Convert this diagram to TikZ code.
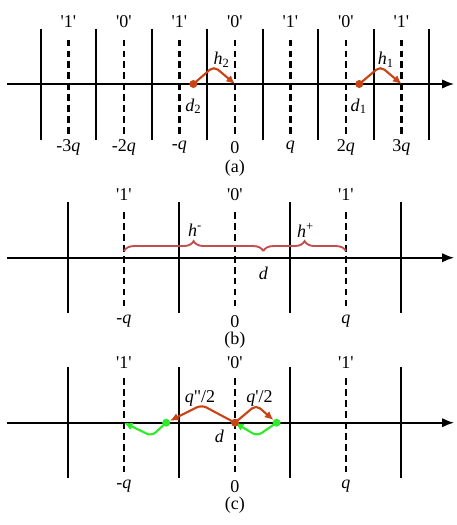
\documentclass[tikz,border=0pt]{standalone}
\usepackage{fontspec}
\setmainfont{Liberation Serif}
\usetikzlibrary{decorations.pathreplacing,arrows.meta}
\definecolor{hopred}{RGB}{200,68,20}
\definecolor{bracered}{RGB}{192,80,77}
\definecolor{backgreen}{RGB}{45,235,40}
\newcommand{\bitlab}[1]{\textquotesingle#1\textquotesingle}

\begin{document}
\begin{tikzpicture}[x=41.63pt,y=41.63pt,font=\fontsize{13.5}{16}\selectfont,every node/.style={inner sep=1pt}]
                    \tikzstyle{axis}=[line width=1.5pt,-{Latex[length=9pt,width=7pt]}]
                    \tikzstyle{border}=[line width=1.5pt]
                    \tikzstyle{level}=[line width=1.6pt,dash pattern=on 5pt off 3.2pt]
                    \tikzstyle{hop}=[line width=1.6pt,draw=hopred,rounded corners=4pt,-{Latex[length=6.5pt,width=6pt]}]
                    \tikzstyle{back}=[line width=1.6pt,draw=backgreen,rounded corners=4pt,-{Latex[length=6.5pt,width=6pt]}]
                    \tikzstyle{reddot}=[circle,fill=hopred,inner sep=0pt,minimum size=6pt]
                    \tikzstyle{greendot}=[circle,fill=backgreen,inner sep=0pt,minimum size=6pt]
                    \tikzstyle{curly}=[bracered,line width=1.4pt,decorate,decoration={brace,amplitude=7.5pt}]
                    \useasboundingbox (-4.234,1.5135) rectangle (4.0,-7.946);

                    % (a)
                    \coordinate (al) at (-4.11,0);
                    \coordinate (ar) at (3.95,0);
                    \draw [axis] (al) -- (ar);
                    \foreach \x in {-3.5,-2.5,...,3.5}
                        \draw [border] (\x,1) -- (\x,-1);
                    \foreach \x/\b/\v in {-3/1/-3\textit{q},-2/0/-2\textit{q},-1/1/-\textit{q},0/0/0,1/1/\textit{q},2/0/2\textit{q},3/1/3\textit{q}} {
                        \draw [level] (\x,0.8) -- (\x,-0.92);
                        \node at (\x,1.12) {\bitlab{\b}};
                        \node at (\x,-1.14) {\v};
                    }
                    \node (d2) at (-0.75,0) [reddot] {};
                    \coordinate (p2) at (-0.38,0.32);
                    \coordinate (z0) at (0,0);
                    \draw [hop] (d2.center) -- (p2) -- (z0);
                    \node at (-0.24,0.44) {\textit{h}\textsubscript{2}};
                    \node at (-0.75,-0.4) {\textit{d}\textsubscript{2}};
                    \node (d1) at (2.24,0) [reddot] {};
                    \coordinate (p1) at (2.62,0.32);
                    \coordinate (z3) at (3,0);
                    \draw [hop] (d1.center) -- (p1) -- (z3);
                    \node at (2.72,0.44) {\textit{h}\textsubscript{1}};
                    \node at (2.23,-0.4) {\textit{d}\textsubscript{1}};
                    \node at (0,-1.51) {(a)};

                    % (b)
                    \begin{scope}[shift={(0,-3.13)}]
                    \coordinate (bl) at (-4.11,0);
                    \coordinate (br) at (3.95,0);
                    \draw [axis] (bl) -- (br);
                    \foreach \x in {-3,-1,1,3}
                        \draw [border] (\x,1) -- (\x,-1);
                    \foreach \x/\b/\v in {-2/1/-\textit{q},0/0/0,2/1/\textit{q}} {
                        \draw [level] (\x,0.82) -- (\x,-0.9);
                        \node at (\x,1.13) {\bitlab{\b}};
                        \node at (\x,-1.15) {\v};
                    }
                    \coordinate (mq) at (-2,0.12);
                    \coordinate (dd) at (0.51,0.12);
                    \coordinate (pq) at (2,0.12);
                    \draw [curly] (mq) -- (dd);
                    \draw [curly] (dd) -- (pq);
                    \node at (-0.72,0.5) {\textit{h}\textsuperscript{-}};
                    \node at (1.27,0.5) {\textit{h}\textsuperscript{+}};
                    \node at (0.51,-0.28) {\textit{d}};
                    \node at (0,-1.48) {(b)};
                    \end{scope}

                    % (c)
                    \begin{scope}[shift={(0,-6.103)}]
                    \coordinate (cl) at (-4.11,0);
                    \coordinate (cr) at (3.95,0);
                    \draw [axis] (cl) -- (cr);
                    \foreach \x in {-3,-1,1,3}
                        \draw [border] (\x,1) -- (\x,-1);
                    \foreach \x/\b/\v in {-2/1/-\textit{q},0/0/0,2/1/\textit{q}} {
                        \draw [level] (\x,0.8) -- (\x,-0.94);
                        \node at (\x,1.08) {\bitlab{\b}};
                        \node at (\x,-1.15) {\v};
                    }
                    \node (g1) at (-1.24,0) [greendot] {};
                    \node (g2) at (0.75,0) [greendot] {};
                    \coordinate (gq) at (-2,0);
                    \coordinate (gz) at (0,0);
                    \coordinate (u1) at (-0.6,0.32);
                    \coordinate (u2) at (0.38,0.32);
                    \coordinate (v1) at (-1.5,-0.24);
                    \coordinate (v2) at (0.4,-0.24);
                    \draw [back] (g1.center) -- (v1) -- (gq);
                    \draw [back] (g2.center) -- (v2) -- (gz);
                    \node (d) at (0,0) [reddot] {};
                    \draw [hop] (d.center) -- (u1) -- (g1);
                    \draw [hop] (d.center) -- (u2) -- (g2);
                    \node at (-0.63,0.44) {\textit{q}\textquotedbl/2};
                    \node at (0.44,0.44) {\textit{q}\textquotesingle/2};
                    \node at (-0.28,-0.24) {\textit{d}};
                    \node at (0,-1.48) {(c)};
                    \end{scope}
                \end{tikzpicture}
\end{document}
